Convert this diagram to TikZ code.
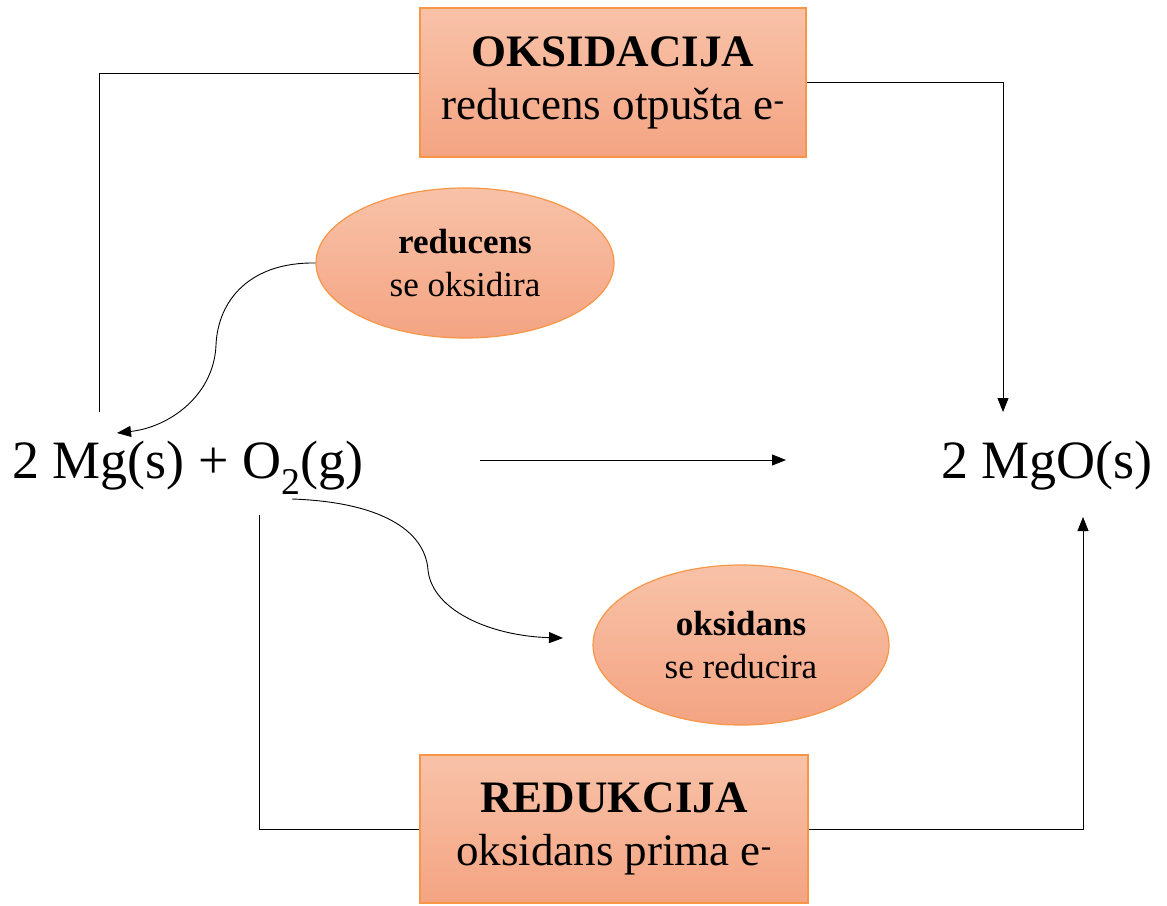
\documentclass[tikz,border=0pt]{standalone}
\usepackage{fontspec}
\setmainfont{Liberation Serif}
\usetikzlibrary{arrows.meta,shapes.geometric}
\definecolor{boxtop}{HTML}{F8C2A8}
\definecolor{boxbot}{HTML}{F4A482}
\definecolor{boxline}{HTML}{F79646}
\tikzset{
  salmon/.style={draw=boxline, line width=1.2pt, top color=boxtop, bottom color=boxbot, inner sep=0pt, align=center},
  procbox/.style={salmon, rectangle, font=\fontsize{45}{53}\selectfont},
  roleell/.style={salmon, ellipse, font=\fontsize{35}{43}\selectfont},
  conn/.style={draw=black, line width=0.9pt},
  arr/.style={conn, -{Triangle[length=14pt,width=11pt]}},
  eqtext/.style={font=\fontsize{54}{60}\selectfont, inner sep=0pt, anchor=base}
}
\begin{document}
\begin{tikzpicture}[x=1pt,y=-1pt]
\useasboundingbox (0,0) rectangle (1167,905);
% boxes
\node[procbox, minimum width=386pt, minimum height=149pt] (ox) at (613,82.5)
  {\textbf{OKSIDACIJA}\\reducens otpušta e\textsuperscript{-}};
\node[procbox, minimum width=388pt, minimum height=148pt] (red) at (614,829)
  {\textbf{REDUKCIJA}\\oksidans prima e\textsuperscript{-}};
% ellipses
\node[roleell, minimum width=298pt, minimum height=150pt] (e1) at (465,263)
  {\textbf{reducens}\\se oksidira};
\node[roleell, minimum width=296pt, minimum height=160pt] (e2) at (741,645)
  {\textbf{oksidans}\\se reducira};
% equation
\node[eqtext, anchor=base west] (eq1) at (12,478) {2 Mg(s) + O\textsubscript{2}(g)};
\node[eqtext, anchor=base east] (eq2) at (1153,478) {2 MgO(s)};
% coordinates
\coordinate (oxs) at (99,412);
\coordinate (oxe) at (1003,412);
\coordinate (rs) at (259,515);
\coordinate (re) at (1083,517);
\coordinate (ms) at (480,460);
\coordinate (me) at (786,460);
\coordinate (c1e) at (117,433);
\coordinate (c2s) at (292,499);
\coordinate (c2e) at (563,638);
% connectors
\draw[conn] (oxs) |- ([yshift=9.5pt]ox.west);
\draw[arr] (ox.east) -| (oxe);
\draw[conn] (rs) |- (red.west);
\draw[arr] (red.east) -| (re);
\draw[arr] (ms) -- (me);
\draw[arr] (e1.west) .. controls (250,262) and (218,300) .. (216,345)
  .. controls (214,395) and (170,427) .. (c1e);
\draw[arr] (c2s) .. controls (380,502) and (425,530) .. (428,570)
  .. controls (432,610) and (490,636) .. (c2e);
\end{tikzpicture}
\end{document}
